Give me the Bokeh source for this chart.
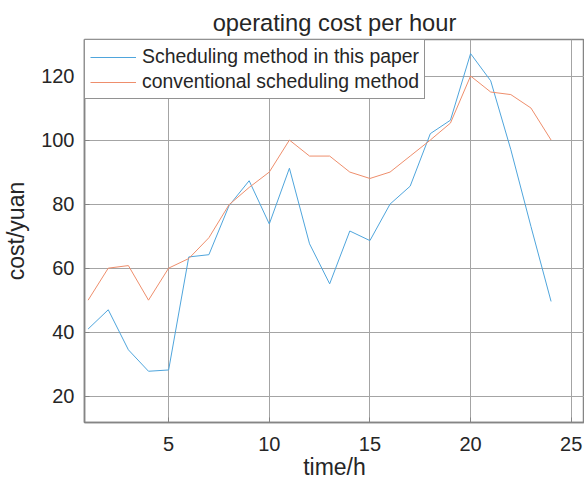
from bokeh.plotting import figure
from bokeh.models import Range1d, FixedTicker
from bokeh.embed import file_html
from bokeh.resources import INLINE

hours = list(range(1, 25))
proposed = [41, 47, 34.5, 27.8, 28.2, 63.5, 64.2, 79.5, 87.3, 73.8, 91.2, 67.6, 55.1, 71.6,
            68.6, 80.0, 85.6, 102.0, 106.2, 127.0, 118.5, 97.0, 73.0, 49.6]
conventional = [50, 60, 60.8, 50, 60, 63, 69.5, 79.8, 85.2, 90, 100, 95, 95, 90,
                88, 90, 95, 100, 105.3, 120, 115, 114.2, 110, 100]
x_ticks = [5, 10, 15, 20, 25]
y_ticks = [20, 40, 60, 80, 100, 120]

FONT = "Liberation Sans"
TXT = "#262626"

p = figure(width=584, height=485, output_backend="svg", toolbar_location=None,
           x_range=Range1d(0.82, 25.66), y_range=Range1d(11.8, 131.4),
           title="operating cost per hour",
           min_border_left=83, min_border_right=0, min_border_top=39, min_border_bottom=63)

p.title.align = "center"
p.title.text_font = FONT
p.title.text_font_size = "23.7px"
p.title.text_font_style = "normal"
p.title.text_color = TXT
p.title.standoff = 7

p.line(hours, proposed, line_color="#4fa5dc", line_width=1, legend_label="Scheduling method in this paper")
p.line(hours, conventional, line_color="#ee8e6c", line_width=1, legend_label="conventional scheduling method")

p.xaxis.ticker = FixedTicker(ticks=x_ticks)
p.yaxis.ticker = FixedTicker(ticks=y_ticks)
p.xaxis.axis_label = "time/h"
p.yaxis.axis_label = "cost/yuan"

for ax in (p.xaxis, p.yaxis):
    ax.axis_label_text_font = FONT
    ax.axis_label_text_font_size = "23px"
    ax.axis_label_text_font_style = "normal"
    ax.axis_label_text_color = TXT
    ax.major_label_text_font = FONT
    ax.major_label_text_font_size = "20px"
    ax.major_label_text_color = TXT
    ax.axis_line_color = "#858585"
    ax.axis_line_width = 1.5
    ax.major_tick_line_color = "#858585"
    ax.major_tick_in = 5
    ax.major_tick_out = 0
    ax.minor_tick_line_color = None

p.xaxis.major_label_standoff = 14
p.xaxis.axis_label_standoff = 0
p.yaxis.major_label_standoff = 10
p.yaxis.axis_label_standoff = 9

p.grid.grid_line_color = "#a4a4a4"
p.grid.grid_line_width = 1
p.outline_line_color = "#858585"
p.outline_line_width = 1.5

lg = p.legend[0]
lg.location = "top_left"
lg.margin = 0
lg.padding = 5
lg.spacing = 2
lg.glyph_width = 46
lg.glyph_height = 22
lg.label_height = 22
lg.label_standoff = 6
lg.label_text_font = FONT
lg.label_text_font_size = "19.4px"
lg.label_text_color = TXT
lg.border_line_color = "#262626"
lg.border_line_width = 1
lg.background_fill_color = "white"
lg.background_fill_alpha = 1

open("out.html", "w").write(file_html(p, INLINE))
